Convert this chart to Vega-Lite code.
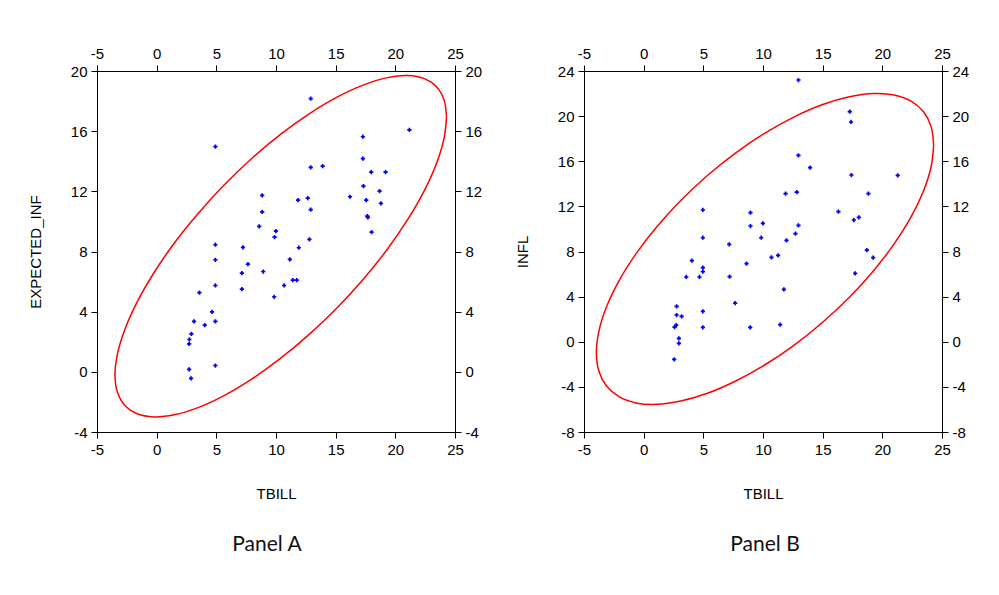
{
  "$schema": "https://vega.github.io/schema/vega-lite/v6.json",
  "background": "white",
  "padding": {"left": 28, "top": 46, "right": 10, "bottom": 10},
  "bounds": "flush",
  "spacing": 129,
  "datasets": {
    "pointsA": [
      {"tbill": 12.91, "v": 18.16}, {"tbill": 21.18, "v": 16.08}, {"tbill": 17.28, "v": 15.63}, {"tbill": 4.92, "v": 14.97},
      {"tbill": 17.28, "v": 14.17}, {"tbill": 12.91, "v": 13.59}, {"tbill": 13.91, "v": 13.68}, {"tbill": 17.98, "v": 13.28},
      {"tbill": 19.18, "v": 13.28}, {"tbill": 17.33, "v": 12.35}, {"tbill": 18.68, "v": 12.02}, {"tbill": 8.84, "v": 11.73},
      {"tbill": 16.2, "v": 11.64}, {"tbill": 11.85, "v": 11.42}, {"tbill": 12.66, "v": 11.55}, {"tbill": 17.56, "v": 11.42},
      {"tbill": 18.79, "v": 11.2}, {"tbill": 12.91, "v": 10.78}, {"tbill": 8.84, "v": 10.64}, {"tbill": 17.7, "v": 10.27},
      {"tbill": 17.65, "v": 10.35}, {"tbill": 8.59, "v": 9.67}, {"tbill": 9.99, "v": 9.36}, {"tbill": 9.88, "v": 8.96},
      {"tbill": 18.01, "v": 9.29}, {"tbill": 12.8, "v": 8.8}, {"tbill": 4.92, "v": 8.45}, {"tbill": 7.23, "v": 8.27},
      {"tbill": 11.91, "v": 8.25}, {"tbill": 4.92, "v": 7.45}, {"tbill": 11.16, "v": 7.47}, {"tbill": 7.65, "v": 7.16},
      {"tbill": 7.14, "v": 6.56}, {"tbill": 8.93, "v": 6.67}, {"tbill": 11.41, "v": 6.1}, {"tbill": 11.74, "v": 6.1},
      {"tbill": 4.92, "v": 5.74}, {"tbill": 10.68, "v": 5.74}, {"tbill": 7.14, "v": 5.5}, {"tbill": 3.58, "v": 5.26},
      {"tbill": 9.85, "v": 4.99}, {"tbill": 4.64, "v": 3.99}, {"tbill": 3.13, "v": 3.35}, {"tbill": 4.92, "v": 3.35},
      {"tbill": 4.03, "v": 3.1}, {"tbill": 2.91, "v": 2.53}, {"tbill": 2.74, "v": 2.15}, {"tbill": 2.72, "v": 1.86},
      {"tbill": 4.92, "v": 0.42}, {"tbill": 2.72, "v": 0.16}, {"tbill": 2.88, "v": -0.44}
    ],
    "ellipseA": [
      {"i": 0, "tbill": 24.29, "v": 16.92}, {"i": 1, "tbill": 24.08, "v": 18.08}, {"i": 2, "tbill": 23.45, "v": 18.95},
      {"i": 3, "tbill": 22.43, "v": 19.49}, {"i": 4, "tbill": 21.04, "v": 19.7}, {"i": 5, "tbill": 19.33, "v": 19.56},
      {"i": 6, "tbill": 17.35, "v": 19.08}, {"i": 7, "tbill": 15.15, "v": 18.28}, {"i": 8, "tbill": 12.81, "v": 17.17},
      {"i": 9, "tbill": 10.4, "v": 15.8}, {"i": 10, "tbill": 7.99, "v": 14.2}, {"i": 11, "tbill": 5.65, "v": 12.42},
      {"i": 12, "tbill": 3.46, "v": 10.51}, {"i": 13, "tbill": 1.47, "v": 8.55}, {"i": 14, "tbill": -0.24, "v": 6.57},
      {"i": 15, "tbill": -1.63, "v": 4.65}, {"i": 16, "tbill": -2.65, "v": 2.85}, {"i": 17, "tbill": -3.28, "v": 1.21},
      {"i": 18, "tbill": -3.49, "v": -0.22}, {"i": 19, "tbill": -3.28, "v": -1.38}, {"i": 20, "tbill": -2.65, "v": -2.25},
      {"i": 21, "tbill": -1.63, "v": -2.79}, {"i": 22, "tbill": -0.24, "v": -3.0}, {"i": 23, "tbill": 1.47, "v": -2.86},
      {"i": 24, "tbill": 3.46, "v": -2.38}, {"i": 25, "tbill": 5.65, "v": -1.58}, {"i": 26, "tbill": 7.99, "v": -0.47},
      {"i": 27, "tbill": 10.4, "v": 0.91}, {"i": 28, "tbill": 12.81, "v": 2.51}, {"i": 29, "tbill": 15.15, "v": 4.28},
      {"i": 30, "tbill": 17.35, "v": 6.19}, {"i": 31, "tbill": 19.33, "v": 8.15}, {"i": 32, "tbill": 21.04, "v": 10.13},
      {"i": 33, "tbill": 22.43, "v": 12.05}, {"i": 34, "tbill": 23.45, "v": 13.85}, {"i": 35, "tbill": 24.08, "v": 15.5},
      {"i": 36, "tbill": 24.29, "v": 16.92}
    ],
    "pointsB": [
      {"tbill": 12.97, "v": 23.2}, {"tbill": 17.27, "v": 20.4}, {"tbill": 17.38, "v": 19.48}, {"tbill": 12.97, "v": 16.52},
      {"tbill": 13.95, "v": 15.43}, {"tbill": 17.41, "v": 14.78}, {"tbill": 21.29, "v": 14.75}, {"tbill": 12.83, "v": 13.27},
      {"tbill": 11.89, "v": 13.13}, {"tbill": 18.83, "v": 13.13}, {"tbill": 4.96, "v": 11.68}, {"tbill": 8.95, "v": 11.44},
      {"tbill": 16.32, "v": 11.53}, {"tbill": 17.61, "v": 10.79}, {"tbill": 18.03, "v": 11.03}, {"tbill": 9.99, "v": 10.5},
      {"tbill": 8.95, "v": 10.26}, {"tbill": 12.97, "v": 10.32}, {"tbill": 12.72, "v": 9.58}, {"tbill": 9.85, "v": 9.22},
      {"tbill": 4.96, "v": 9.22}, {"tbill": 11.97, "v": 8.99}, {"tbill": 7.17, "v": 8.63}, {"tbill": 10.71, "v": 7.48},
      {"tbill": 11.27, "v": 7.66}, {"tbill": 18.7, "v": 8.13}, {"tbill": 19.23, "v": 7.45}, {"tbill": 4.04, "v": 7.19},
      {"tbill": 8.62, "v": 6.92}, {"tbill": 4.96, "v": 6.57}, {"tbill": 4.96, "v": 6.21}, {"tbill": 3.57, "v": 5.74},
      {"tbill": 4.68, "v": 5.74}, {"tbill": 7.2, "v": 5.77}, {"tbill": 17.72, "v": 6.06}, {"tbill": 11.75, "v": 4.64},
      {"tbill": 7.67, "v": 3.43}, {"tbill": 2.76, "v": 3.14}, {"tbill": 4.96, "v": 2.69}, {"tbill": 2.76, "v": 2.37},
      {"tbill": 3.18, "v": 2.25}, {"tbill": 2.73, "v": 1.48}, {"tbill": 2.59, "v": 1.3}, {"tbill": 11.44, "v": 1.51},
      {"tbill": 8.93, "v": 1.28}, {"tbill": 4.96, "v": 1.28}, {"tbill": 2.95, "v": 0.3}, {"tbill": 2.95, "v": -0.14},
      {"tbill": 2.56, "v": -1.56}
    ],
    "ellipseB": [
      {"i": 0, "tbill": 24.3, "v": 17.43}, {"i": 1, "tbill": 24.09, "v": 19.07}, {"i": 2, "tbill": 23.45, "v": 20.39},
      {"i": 3, "tbill": 22.41, "v": 21.33}, {"i": 4, "tbill": 20.99, "v": 21.88}, {"i": 5, "tbill": 19.25, "v": 22.01},
      {"i": 6, "tbill": 17.24, "v": 21.72}, {"i": 7, "tbill": 15.0, "v": 21.03}, {"i": 8, "tbill": 12.62, "v": 19.94},
      {"i": 9, "tbill": 10.17, "v": 18.5}, {"i": 10, "tbill": 7.72, "v": 16.75}, {"i": 11, "tbill": 5.34, "v": 14.74},
      {"i": 12, "tbill": 3.11, "v": 12.52}, {"i": 13, "tbill": 1.09, "v": 10.18}, {"i": 14, "tbill": -0.65, "v": 7.79},
      {"i": 15, "tbill": -2.07, "v": 5.4}, {"i": 16, "tbill": -3.11, "v": 3.1}, {"i": 17, "tbill": -3.75, "v": 0.95},
      {"i": 18, "tbill": -3.96, "v": -0.97}, {"i": 19, "tbill": -3.75, "v": -2.61}, {"i": 20, "tbill": -3.11, "v": -3.93},
      {"i": 21, "tbill": -2.07, "v": -4.87}, {"i": 22, "tbill": -0.65, "v": -5.42}, {"i": 23, "tbill": 1.09, "v": -5.55},
      {"i": 24, "tbill": 3.11, "v": -5.26}, {"i": 25, "tbill": 5.34, "v": -4.57}, {"i": 26, "tbill": 7.72, "v": -3.48},
      {"i": 27, "tbill": 10.17, "v": -2.04}, {"i": 28, "tbill": 12.62, "v": -0.29}, {"i": 29, "tbill": 15.0, "v": 1.73},
      {"i": 30, "tbill": 17.24, "v": 3.94}, {"i": 31, "tbill": 19.25, "v": 6.28}, {"i": 32, "tbill": 20.99, "v": 8.68},
      {"i": 33, "tbill": 22.41, "v": 11.06}, {"i": 34, "tbill": 23.45, "v": 13.36}, {"i": 35, "tbill": 24.09, "v": 15.51},
      {"i": 36, "tbill": 24.3, "v": 17.43}
    ]
  },
  "hconcat": [
    {
      "width": 358,
      "height": 361,
      "title": {"text": "Panel A", "orient": "bottom", "offset": 33, "dx": -9},
      "resolve": {"axis": {"x": "independent", "y": "independent"}},
      "layer": [
        {
          "data": {"name": "ellipseA"},
          "mark": {"type": "line", "color": "#ff0000", "strokeWidth": 1.5, "interpolate": "catmull-rom"},
          "encoding": {
            "x": {"field": "tbill", "type": "quantitative", "scale": {"domain": [-5, 25], "nice": false, "zero": false},
                  "axis": {"orient": "bottom", "title": "TBILL", "values": [-5, 0, 5, 10, 15, 20, 25]}},
            "y": {"field": "v", "type": "quantitative", "scale": {"domain": [-4, 20], "nice": false, "zero": false},
                  "axis": {"orient": "left", "title": "EXPECTED_INF", "values": [-4, 0, 4, 8, 12, 16, 20]}},
            "order": {"field": "i", "type": "quantitative"}
          }
        },
        {
          "data": {"name": "pointsA"},
          "mark": {"type": "point", "shape": "cross", "filled": true, "color": "#0000ff", "size": 18, "opacity": 1},
          "encoding": {
            "x": {"field": "tbill", "type": "quantitative",
                  "axis": {"orient": "top", "title": null, "values": [-5, 0, 5, 10, 15, 20, 25]}},
            "y": {"field": "v", "type": "quantitative",
                  "axis": {"orient": "right", "title": null, "values": [-4, 0, 4, 8, 12, 16, 20]}}
          }
        }
      ]
    },
    {
      "width": 358,
      "height": 361,
      "title": {"text": "Panel B", "orient": "bottom", "offset": 33, "dx": 2},
      "resolve": {"axis": {"x": "independent", "y": "independent"}},
      "layer": [
        {
          "data": {"name": "ellipseB"},
          "mark": {"type": "line", "color": "#ff0000", "strokeWidth": 1.5, "interpolate": "catmull-rom"},
          "encoding": {
            "x": {"field": "tbill", "type": "quantitative", "scale": {"domain": [-5, 25], "nice": false, "zero": false},
                  "axis": {"orient": "bottom", "title": "TBILL", "values": [-5, 0, 5, 10, 15, 20, 25]}},
            "y": {"field": "v", "type": "quantitative", "scale": {"domain": [-8, 24], "nice": false, "zero": false},
                  "axis": {"orient": "left", "title": "INFL", "values": [-8, -4, 0, 4, 8, 12, 16, 20, 24]}},
            "order": {"field": "i", "type": "quantitative"}
          }
        },
        {
          "data": {"name": "pointsB"},
          "mark": {"type": "point", "shape": "cross", "filled": true, "color": "#0000ff", "size": 18, "opacity": 1},
          "encoding": {
            "x": {"field": "tbill", "type": "quantitative",
                  "axis": {"orient": "top", "title": null, "values": [-5, 0, 5, 10, 15, 20, 25]}},
            "y": {"field": "v", "type": "quantitative",
                  "axis": {"orient": "right", "title": null, "values": [-8, -4, 0, 4, 8, 12, 16, 20, 24]}}
          }
        }
      ]
    }
  ],
  "config": {
    "view": {"stroke": null},
    "axis": {
      "grid": false,
      "domainColor": "#000000",
      "domainWidth": 1,
      "tickColor": "#000000",
      "tickSize": 6,
      "tickWidth": 1,
      "labelFont": "Liberation Sans",
      "labelFontSize": 15,
      "labelColor": "#000000",
      "labelPadding": 4,
      "labelFlush": false,
      "labelOverlap": false,
      "labelExpr": "toString(datum.value)",
      "titleFont": "Liberation Sans",
      "titleFontSize": 15,
      "titleFontWeight": "normal",
      "titleColor": "#000000"
    },
    "axisX": {"titlePadding": 29},
    "axisY": {"titlePadding": 27},
    "title": {"font": "Lato", "fontSize": 21, "fontWeight": "normal", "color": "#111111"}
  }
}
